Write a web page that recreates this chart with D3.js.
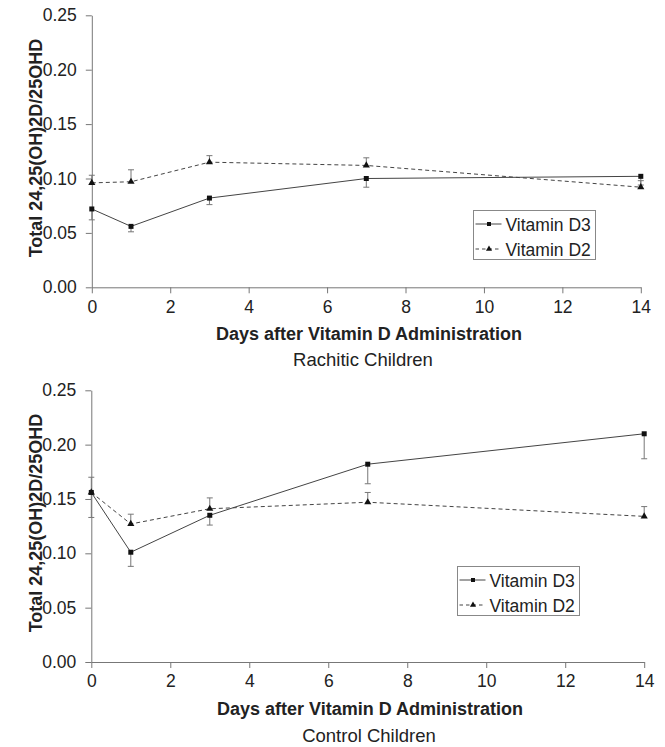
<!DOCTYPE html>
<html><head><meta charset="utf-8">
<script src="https://cdn.jsdelivr.net/npm/d3@7"></script>
<style>body{margin:0;background:#fff}svg{display:block}text{font-family:"Liberation Sans",Arial,sans-serif;fill:#222}</style>
</head><body>
<script>
const days = [0, 1, 3, 7, 14];
const xTicks = [0, 2, 4, 6, 8, 10, 12, 14];
const yTicks = [0, 0.05, 0.10, 0.15, 0.20, 0.25];
const seriesNames = ["Vitamin D3", "Vitamin D2"];
const rachiticD3 = [0.072, 0.056, 0.082, 0.100, 0.102];
const rachiticD3Err = [0.010, 0.005, 0.006, 0.008, 0.008];
const rachiticD2 = [0.096, 0.097, 0.115, 0.112, 0.092];
const rachiticD2Err = [0.007, 0.011, 0.006, 0.007, 0.006];
const controlD3 = [0.156, 0.101, 0.135, 0.182, 0.210];
const controlD3Err = [0.023, 0.013, 0.009, 0.018, 0.023];
const controlD2 = [0.156, 0.127, 0.141, 0.147, 0.134];
const controlD2Err = [0.014, 0.009, 0.010, 0.009, 0.009];
const yTitle = "Total 24,25(OH)2D/25OHD";
const xTitle = "Days after Vitamin D Administration";
const panelTitles = ["Rachitic Children", "Control Children"];

const W = 665, H = 747;
const svg = d3.select("body").append("svg").attr("width", W).attr("height", H);

const panels = [
  {d3: rachiticD3, d3e: rachiticD3Err, d2: rachiticD2, d2e: rachiticD2Err, title: panelTitles[0],
   xr: [91.8, 640.8], yr: [287.3, 15.3], legend: [473.5, 210.5], yTitleC: 148, yTitleX: 41.5,
   xTitleX: 369, xTitleY: 340, subX: 363, subY: 365.5},
  {d3: controlD3, d3e: controlD3Err, d2: controlD2, d2e: controlD2Err, title: panelTitles[1],
   xr: [91.3, 644.2], yr: [662, 390.3], legend: [457.5, 566.5], yTitleC: 523, yTitleX: 41.5,
   xTitleX: 370, xTitleY: 715, subX: 369, subY: 741.5}
];

const lineCol = "#444", axisCol = "#777", errCol = "#777";
const FONT = '"Liberation Sans",Arial,sans-serif';

panels.forEach(p => {
  const g = svg.append("g");
  const x = d3.scaleLinear().domain([0, 14]).range(p.xr);
  const y = d3.scaleLinear().domain([0, 0.25]).range(p.yr);

  const ya = g.append("g").attr("transform", `translate(${p.xr[0]},0)`)
    .call(d3.axisLeft(y).tickValues(yTicks).tickFormat(d3.format(".2f")).tickSize(6).tickSizeOuter(0).tickPadding(9));
  const xa = g.append("g").attr("transform", `translate(0,${p.yr[0]})`)
    .call(d3.axisBottom(x).tickValues(xTicks).tickFormat(d3.format("d")).tickSize(6).tickSizeOuter(0).tickPadding(7));
  [ya, xa].forEach(a => {
    a.attr("font-size", null).attr("font-family", null);
    a.select(".domain").attr("stroke", axisCol);
    a.selectAll(".tick line").attr("stroke", axisCol);
    a.selectAll(".tick text").attr("font-size", 17.5).attr("fill", "#222").style("font-family", FONT);
  });

  g.append("text").attr("transform", `translate(${p.yTitleX},${p.yTitleC}) rotate(-90)`)
    .attr("text-anchor", "middle").attr("font-weight", "bold").attr("font-size", 18).text(yTitle);
  g.append("text").attr("x", p.xTitleX).attr("y", p.xTitleY).attr("text-anchor", "middle")
    .attr("font-weight", "bold").attr("font-size", 18).text(xTitle);
  g.append("text").attr("x", p.subX).attr("y", p.subY).attr("text-anchor", "middle")
    .attr("font-size", 18.5).text(p.title);

  const series = [
    {vals: p.d3, err: p.d3e, dir: -1, dash: null, marker: "square"},
    {vals: p.d2, err: p.d2e, dir: 1, dash: "4,3", marker: "triangle"}
  ];
  const line = d3.line().x((d, i) => x(days[i])).y(d => y(d));
  series.forEach(s => {
    const eg = g.append("g");
    s.vals.forEach((v, i) => {
      const y1 = y(v), y2 = y(v + s.dir * s.err[i]);
      eg.append("line").attr("x1", x(days[i])).attr("x2", x(days[i])).attr("y1", y1).attr("y2", y2)
        .attr("stroke", errCol).attr("stroke-width", 1);
      eg.append("line").attr("x1", x(days[i]) - 3).attr("x2", x(days[i]) + 3).attr("y1", y2).attr("y2", y2)
        .attr("stroke", errCol).attr("stroke-width", 1);
    });
    g.append("path").datum(s.vals).attr("d", line).attr("fill", "none")
      .attr("stroke", lineCol).attr("stroke-width", 1).attr("stroke-dasharray", s.dash);
    const sym = d3.symbol().type(s.marker === "square" ? d3.symbolSquare : d3.symbolTriangle).size(s.marker === "square" ? 25 : 22);
    g.append("g").selectAll("path").data(s.vals).join("path")
      .attr("transform", (d, i) => `translate(${x(days[i])},${y(d)})`)
      .attr("d", sym).attr("fill", "#111");
  });

  const [lx, ly] = p.legend;
  const lg = g.append("g").attr("transform", `translate(${lx},${ly})`);
  lg.append("rect").attr("width", 122).attr("height", 49).attr("fill", "#fff").attr("stroke", "#888").attr("stroke-width", 1);
  series.forEach((s, k) => {
    const cy = 13.5 + k * 25;
    lg.append("line").attr("x1", 2).attr("x2", 28).attr("y1", cy).attr("y2", cy)
      .attr("stroke", lineCol).attr("stroke-dasharray", s.dash === null ? null : "3.5,3");
    lg.append("path").attr("transform", `translate(15.5,${cy})`)
      .attr("d", d3.symbol().type(s.marker === "square" ? d3.symbolSquare : d3.symbolTriangle).size(s.marker === "square" ? 16 : 16)).attr("fill", "#111");
    lg.append("text").attr("x", 32).attr("y", cy + 6.5).attr("font-size", 17.5).text(seriesNames[k]);
  });
});
</script>
</body></html>
